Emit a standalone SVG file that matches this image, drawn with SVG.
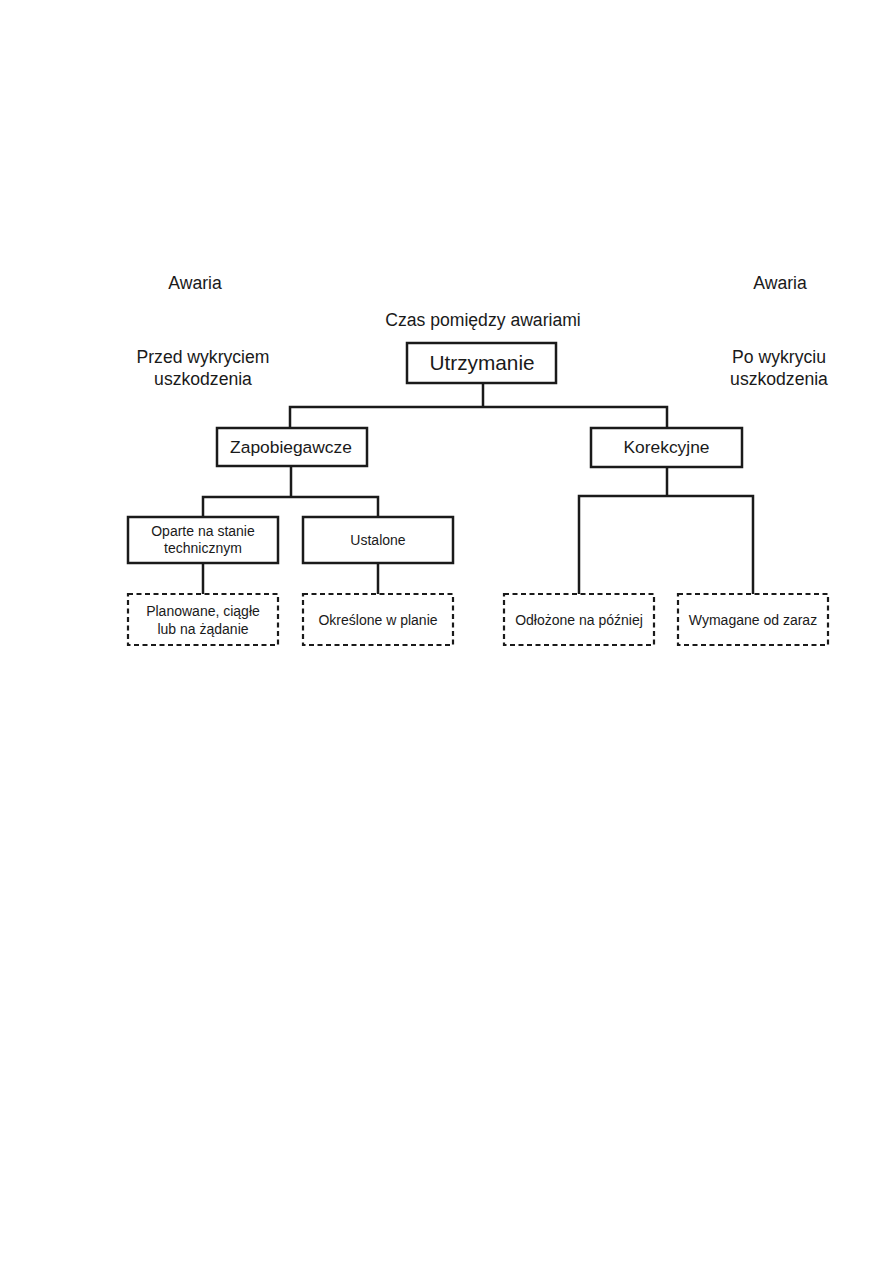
<svg xmlns="http://www.w3.org/2000/svg" width="893" height="1263" viewBox="0 0 893 1263">
<style>
text{font-family:"Liberation Sans",Arial,sans-serif;fill:#1a1a1a;text-anchor:middle}
.lbl{font-size:17.6px}
.big{font-size:20.8px}
.mid{font-size:17.4px}
.sm{font-size:14px}
.box{fill:#fff;stroke:#1a1a1a;stroke-width:2.5}
.dbox{fill:#fff;stroke:#1a1a1a;stroke-width:2.2;stroke-dasharray:5 3.5}
.con{fill:none;stroke:#1a1a1a;stroke-width:2.5}
</style>
<rect width="893" height="1263" fill="#fff"/>
<g id="labels">
<text class="lbl" x="195" y="289">Awaria</text>
<text class="lbl" x="780" y="289">Awaria</text>
<text class="lbl" x="483" y="326">Czas pomiędzy awariami</text>
<text class="lbl" x="203" y="363">Przed wykryciem</text>
<text class="lbl" x="203" y="385">uszkodzenia</text>
<text class="lbl" x="779" y="363">Po wykryciu</text>
<text class="lbl" x="779" y="385">uszkodzenia</text>
</g>
<g id="connectors">
<path class="con" d="M483 383V407M290 428V407H667V428"/>
<path class="con" d="M291 466V497M203 517V497H378V517"/>
<path class="con" d="M667 467V496M579 594V496H753V594"/>
<path class="con" d="M203 563V594M378 563V594"/>
</g>
<g id="utrzymanie"><rect class="box" x="407" y="343" width="149" height="40"/><text class="big" x="482" y="370">Utrzymanie</text></g>
<g id="zapobiegawcze"><rect class="box" x="217" y="428" width="150" height="38"/><text class="mid" x="291" y="453">Zapobiegawcze</text></g>
<g id="korekcyjne"><rect class="box" x="591" y="428" width="151" height="39"/><text class="mid" x="666.5" y="453">Korekcyjne</text></g>
<g id="oparte"><rect class="box" x="128" y="517" width="150" height="46"/><text class="sm" x="203" y="536">Oparte na stanie</text><text class="sm" x="203" y="553">technicznym</text></g>
<g id="ustalone"><rect class="box" x="303" y="517" width="150" height="46"/><text class="sm" x="378" y="545">Ustalone</text></g>
<g id="planowane"><rect class="dbox" x="128" y="594" width="150" height="51"/><text class="sm" x="203" y="616">Planowane, ciągłe</text><text class="sm" x="203" y="634">lub na żądanie</text></g>
<g id="okreslone"><rect class="dbox" x="303" y="594" width="150" height="51"/><text class="sm" x="378" y="625">Określone w planie</text></g>
<g id="odlozone"><rect class="dbox" x="504" y="594" width="150" height="51"/><text class="sm" x="579" y="625">Odłożone na później</text></g>
<g id="wymagane"><rect class="dbox" x="678" y="594" width="150" height="51"/><text class="sm" x="753" y="625">Wymagane od zaraz</text></g>
</svg>
